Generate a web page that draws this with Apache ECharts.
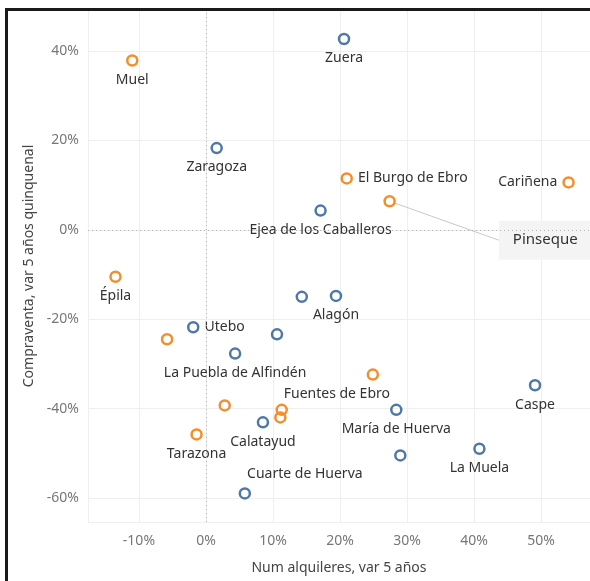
<!DOCTYPE html>
<html>
<head>
<meta charset="utf-8">
<script src="https://cdn.jsdelivr.net/npm/echarts@6/dist/echarts.min.js"></script>
<style>
html,body{margin:0;padding:0;background:#fff;}
#main{position:absolute;left:0;top:0;width:590px;height:581px;}
#frame{position:absolute;left:5px;top:8px;width:700px;height:700px;border-left:3px solid #1a1a1a;border-top:3px solid #1a1a1a;pointer-events:none;}
</style>
</head>
<body>
<div id="main"></div>
<div id="frame"></div>
<script>
// municipios azules
var blueNames=['Zuera','Zaragoza','Ejea de los Caballeros','','Alagón','Utebo','','La Puebla de Alfindén','Caspe','María de Huerva','Calatayud','La Muela','','Cuarte de Huerva'];
var blueX=[20.6,1.6,17.1,14.3,19.4,-1.9,10.6,4.35,49.1,28.4,8.5,40.8,29.0,5.8];
var blueY=[42.7,18.3,4.3,-15.0,-14.8,-21.8,-23.4,-27.7,-34.8,-40.3,-43.1,-49.0,-50.5,-59.0];
// municipios naranjas
var orangeNames=['Muel','El Burgo de Ebro','Cariñena','Pinseque','Épila','','Fuentes de Ebro','','','','Tarazona'];
var orangeX=[-11.0,21.0,54.1,27.4,-13.5,-5.8,24.9,2.8,11.3,11.1,-1.4];
var orangeY=[37.9,11.5,10.6,6.4,-10.5,-24.5,-32.4,-39.3,-40.3,-42.0,-45.8];

var xTitle='Num alquileres, var 5 años';
var yTitle='Compraventa, var 5 años quinquenal';

var FONT='Noto Sans';
var BLUE='#4e79a7', ORANGE='#f28e2b';

// desplazamientos de etiquetas (px)
var labelShift={'Pinseque':[98,39],'Fuentes de Ebro':[-36,0],'Cuarte de Huerva':[60,0]};

function labelFor(name){
	var lb={show:name!='',position:'bottom',distance:6,color:'#333',fontFamily:FONT,fontSize:14,formatter:'{b}'};
	if(name=='Utebo' || name=='El Burgo de Ebro'){ lb.position='right'; lb.distance=5; }
	if(name=='Cariñena'){ lb.position='left'; lb.distance=5; }
	if(name=='Cuarte de Huerva'){ lb.position='top'; }
	if(name=='Pinseque'){
		lb.position='right';
		lb.distance=5;
		lb.fontSize=15;
		lb.backgroundColor='#f4f4f4';
		lb.padding=[12,20,12,14];
	}
	return lb;
}
function buildData(names,xs,ys){
	var out=[];
	for(var i=0;i<names.length;i++){
		var item={name:names[i],value:[xs[i],ys[i]],label:labelFor(names[i])};
		if(names[i]=='Pinseque'){
			item.labelLine={show:true,lineStyle:{color:'#c8c8c8',width:1}};
		}
		out.push(item);
	}
	return out;
}
function series(name,color,names,xs,ys){
	return {
		name:name,
		type:'scatter',
		symbol:'circle',
		symbolSize:10,
		itemStyle:{color:'rgba(0,0,0,0)',borderColor:color,borderWidth:2.5,opacity:1},
		labelLine:{show:false},
		labelLayout:function(p){
			var s=labelShift[names[p.dataIndex]];
			if(s){ return {dx:s[0],dy:s[1]}; }
		},
		data:buildData(names,xs,ys)
	};
}

var myChart=echarts.init(document.getElementById('main'));
var option={
	animation:false,
	textStyle:{fontFamily:FONT},
	grid:{left:88,right:0,top:10,bottom:59,containLabel:false},
	xAxis:{
		type:'value',min:-17.6,max:57.3,minInterval:10,maxInterval:10,
		name:xTitle,nameLocation:'middle',nameGap:39,
		nameTextStyle:{color:'#444',fontSize:14,fontFamily:FONT},
		axisLine:{show:true,lineStyle:{color:'#ececec'}},
		axisTick:{show:true,length:5,lineStyle:{color:'#ececec'}},
		axisLabel:{color:'#777',fontSize:14,fontFamily:FONT,margin:12,showMinLabel:false,showMaxLabel:false,
			formatter:function(v){return v+'%';}},
		splitLine:{show:true,lineStyle:{color:'#efefef'}}
	},
	yAxis:{
		type:'value',min:-65.4,max:49.2,minInterval:20,maxInterval:20,
		name:yTitle,nameLocation:'middle',nameGap:40,
		nameTextStyle:{color:'#444',fontSize:14,fontFamily:FONT},
		axisLine:{show:true,lineStyle:{color:'#ececec'}},
		axisTick:{show:true,length:5,lineStyle:{color:'#ececec'}},
		axisLabel:{color:'#777',fontSize:14,fontFamily:FONT,margin:9,showMinLabel:false,showMaxLabel:false,
			formatter:function(v){return v+'%';}},
		splitLine:{show:true,lineStyle:{color:'#efefef'}}
	},
	series:[
		{
			type:'scatter',data:[],silent:true,
			markLine:{
				silent:true,symbol:'none',label:{show:false},
				lineStyle:{color:'#b5b5b5',type:[1,3],width:1},
				data:[{xAxis:0},{yAxis:0}]
			}
		},
		series('azul',BLUE,blueNames,blueX,blueY),
		series('naranja',ORANGE,orangeNames,orangeX,orangeY)
	]
};
myChart.setOption(option);
</script>
</body>
</html>
